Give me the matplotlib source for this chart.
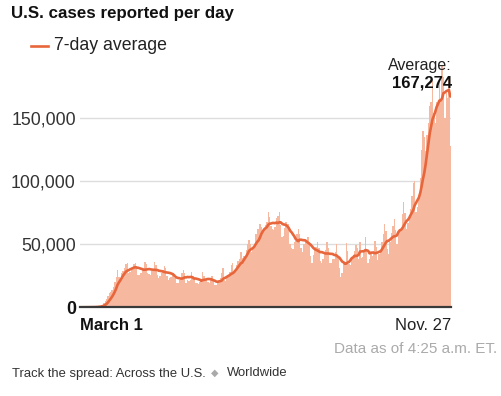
import numpy as np
import pandas as pd
import matplotlib
matplotlib.use("Agg")
import matplotlib.pyplot as plt

plt.rcParams['font.family'] = ['Liberation Sans', 'DejaVu Sans']

# Daily reported U.S. cases, in thousands, Mar 1 - Nov 26, 2020
daily_k = [
    0.01, 0.02, 0.02, 0.03, 0.05, 0.07, 0.1,
    0.1, 0.15, 0.2, 0.3, 0.4, 0.5, 0.6,
    0.9, 1.5, 2.2, 3.3, 4.8, 6.2, 9.1,
    11, 12, 13.5, 16, 20, 24, 29.5,
    24, 23.5, 27, 28.5, 31, 34, 35,
    27, 28, 30.5, 32, 34.5, 35.5, 33,
    26, 25.5, 27.5, 30, 31, 36, 34,
    27.5, 26.5, 26, 28.5, 30.5, 36, 33.5,
    26, 23, 24.5, 27, 29.5, 33, 31.5,
    25, 22, 23, 24, 27, 27.5, 23,
    19.5, 19, 22, 21.5, 27, 30, 27.5,
    19, 21.5, 21, 22, 28, 25, 23,
    19.5, 19.5, 18.5, 20, 22, 28, 25,
    20.5, 22, 20, 19.5, 21.5, 25, 22,
    17.5, 17.5, 19, 21, 23.5, 27.5, 31.5,
    22, 21, 24, 25.5, 28, 33.5, 35,
    28, 30, 33.5, 36.5, 38, 43.5, 39,
    40.5, 41, 45.5, 50.5, 53.5, 50, 44,
    46, 50, 58.5, 62, 62, 66, 63.5,
    59.5, 61.5, 65, 67.5, 75.5, 72, 64.5,
    62.5, 61.5, 64, 71, 72.5, 76, 65,
    55.5, 56.5, 63, 67.5, 66.5, 66.5, 50,
    47, 46, 51.5, 53, 58, 62, 58,
    47, 44, 50.5, 52.5, 51.5, 56, 52,
    41, 35, 41.5, 46, 48, 52, 47.3,
    36.5, 35.5, 38.5, 43.5, 45.5, 52, 47.4,
    35, 35, 38, 38.5, 44, 50, 39.5,
    31, 24, 27, 34.5, 36, 51, 45,
    34.5, 33.5, 38.5, 39, 45, 49.5, 47,
    38.5, 52, 39.5, 40, 45.5, 55.5, 45.5,
    35.5, 38, 43.5, 40.5, 45, 52.5, 47.5,
    37.5, 42, 45, 51.5, 58, 66, 60.5,
    46, 42.5, 52, 59, 64.5, 70, 61.5,
    50, 60, 62, 62.5, 74, 83.5, 74.9,
    62, 67, 73, 78, 88, 99, 100,
    76, 80, 88, 103, 125, 140, 135.5,
    124, 136.5, 146, 160, 163, 180, 154.5,
    146.5, 163, 162.5, 178.5, 164.5, 192, 183,
    150, 170, 166, 182.1, 128,
]
start_date = "2020-03-01"
y_ticks = [0, 50000, 100000, 150000]
y_tick_labels = ["0", "50,000", "100,000", "150,000"]
x_first_label = "March 1"
x_last_label = "Nov. 27"
latest_avg_label = "167,274"

daily = np.array(daily_k) * 1000
dates = pd.date_range(start_date, periods=len(daily), freq="D")
avg = pd.Series(daily, index=dates).rolling(7, min_periods=1).mean()

W, H = 501, 396
fig = plt.figure(figsize=(W / 100, H / 100), dpi=100)
fig.patch.set_facecolor("white")

y0_px, top_px = 307.3, 60.0
y150_px = 118.3
ytop = 150000 * (y0_px - top_px) / (y0_px - y150_px)
ax = fig.add_axes([80 / W, 1 - y0_px / H, 371 / W, (y0_px - top_px) / H])

x = np.arange(len(daily))
ax.bar(x, daily, width=1.0, color="#f7b8a0", linewidth=0, zorder=2)
ax.plot(x, avg.values, color="#e8663b", lw=1.9, solid_capstyle="round",
        solid_joinstyle="round", zorder=4)

ax.set_xlim(-0.5, len(daily) - 0.5)
ax.set_ylim(0, ytop)
for v in y_ticks[1:]:
    ax.axhline(v, color="#dddddd", lw=1, zorder=1)
ax.axhline(0, color="#3a3a3a", lw=1.6, zorder=5, clip_on=False)

ax.set_yticks(y_ticks)
ax.set_yticklabels(y_tick_labels, fontsize=12.8, color="#333333")
ax.get_yticklabels()[0].set_fontweight("bold")
ax.get_yticklabels()[0].set_color("#111111")
ax.tick_params(axis="y", length=0, pad=3)
ax.set_xticks([])
for s in ax.spines.values():
    s.set_visible(False)
ax.set_facecolor("none")

# Title and legend
fig.text(11 / W, 1 - 13.5 / H, "U.S. cases reported per day", fontsize=12.2,
         fontweight="bold", color="#111111", va="center", ha="left")
fig.lines.append(plt.Line2D([31 / W, 48 / W], [1 - 45.7 / H] * 2,
                            transform=fig.transFigure, color="#e8663b", lw=1.9))
fig.text(54 / W, 1 - 46 / H, "7-day average", fontsize=12.7, color="#222222",
         va="center", ha="left")

# Annotation
fig.text(452 / W, 1 - 65.5 / H, "Average:", fontsize=11.5, color="#222222",
         va="center", ha="right")
fig.text(452 / W, 1 - 83.3 / H, latest_avg_label, fontsize=12, fontweight="bold",
         color="#111111", va="center", ha="right")

# X labels
fig.text(80 / W, 1 - 325.5 / H, x_first_label, fontsize=12, fontweight="bold",
         color="#111111", va="center", ha="left")
fig.text(451 / W, 1 - 325.5 / H, x_last_label, fontsize=12, color="#222222",
         va="center", ha="right")
fig.text(497 / W, 1 - 349 / H, "Data as of 4:25 a.m. ET.", fontsize=11,
         color="#aaaaaa", va="center", ha="right")

# Footer
fig.text(11.5 / W, 1 - 373.5 / H, "Track the spread: Across the U.S.", fontsize=9.4,
         color="#333333", va="center", ha="left")
fig.text(215 / W, 1 - 373 / H, "\u25c6", fontsize=7, color="#aaaaaa",
         va="center", ha="center", family="DejaVu Sans")
fig.text(226.5 / W, 1 - 373.5 / H, "Worldwide", fontsize=9.4, color="#333333",
         va="center", ha="left")

fig.savefig("out.png", dpi=100, facecolor="white")
